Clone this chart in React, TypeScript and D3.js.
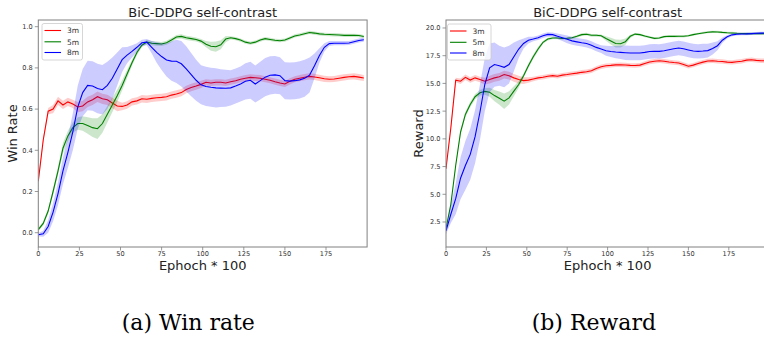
import React from "react";
import * as d3 from "d3";

const epochs = [0,3,6,9,12,15,18,21,24,27,30,33,36,39,42,45,48,51,54,57,60,63,66,69,72,75,78,81,84,87,90,93,96,99,102,105,108,111,114,117,120,123,126,129,132,135,138,141,144,147,150,153,156,159,162,165,168,171,174,177,180,183,186,189,192,195,198];

const seriesNames = ["3m", "5m", "8m"];
const seriesColors = ["#ff0000", "#008000", "#0000ff"];

const winRed = [0.25,0.45,0.59,0.60,0.64,0.62,0.635,0.625,0.61,0.615,0.635,0.645,0.66,0.65,0.645,0.63,0.615,0.613,0.62,0.635,0.64,0.65,0.648,0.652,0.655,0.657,0.66,0.668,0.673,0.68,0.695,0.705,0.712,0.72,0.73,0.727,0.73,0.73,0.727,0.733,0.738,0.745,0.75,0.754,0.752,0.75,0.745,0.74,0.733,0.727,0.722,0.735,0.745,0.75,0.755,0.759,0.756,0.752,0.747,0.745,0.746,0.75,0.754,0.757,0.759,0.755,0.751];
const winRedStd = [0.008,0.012,0.015,0.02,0.02,0.02,0.02,0.02,0.025,0.025,0.025,0.025,0.025,0.025,0.025,0.025,0.025,0.018,0.018,0.018,0.018,0.018,0.018,0.018,0.018,0.018,0.018,0.018,0.018,0.018,0.018,0.018,0.018,0.018,0.015,0.015,0.015,0.015,0.015,0.015,0.015,0.015,0.015,0.015,0.015,0.015,0.015,0.015,0.015,0.015,0.015,0.015,0.015,0.015,0.015,0.015,0.015,0.015,0.015,0.015,0.015,0.015,0.015,0.015,0.015,0.015,0.015];
const winGreen = [0.015,0.045,0.105,0.20,0.30,0.41,0.47,0.51,0.53,0.53,0.52,0.51,0.505,0.53,0.575,0.62,0.665,0.715,0.77,0.825,0.875,0.91,0.925,0.92,0.918,0.916,0.922,0.935,0.95,0.953,0.946,0.942,0.938,0.93,0.915,0.905,0.903,0.912,0.94,0.946,0.942,0.935,0.925,0.92,0.925,0.935,0.942,0.938,0.934,0.932,0.935,0.945,0.955,0.96,0.966,0.972,0.969,0.965,0.963,0.962,0.961,0.96,0.958,0.958,0.958,0.957,0.952];
const winGreenStd = [0.008,0.01,0.012,0.015,0.02,0.025,0.025,0.025,0.03,0.035,0.04,0.045,0.05,0.045,0.04,0.035,0.03,0.025,0.02,0.015,0.012,0.01,0.01,0.01,0.01,0.01,0.01,0.01,0.01,0.01,0.01,0.01,0.01,0.01,0.015,0.022,0.025,0.022,0.015,0.008,0.008,0.008,0.008,0.008,0.008,0.008,0.008,0.008,0.008,0.008,0.008,0.008,0.008,0.008,0.008,0.008,0.008,0.008,0.008,0.008,0.008,0.008,0.008,0.008,0.008,0.008,0.008];
const winBlue = [-0.01,-0.005,0.03,0.10,0.19,0.30,0.39,0.49,0.61,0.68,0.715,0.712,0.70,0.694,0.715,0.75,0.795,0.84,0.862,0.88,0.90,0.922,0.925,0.90,0.875,0.855,0.838,0.833,0.832,0.82,0.795,0.767,0.74,0.718,0.71,0.706,0.703,0.702,0.701,0.703,0.712,0.722,0.735,0.74,0.722,0.738,0.755,0.764,0.766,0.762,0.738,0.736,0.738,0.742,0.75,0.765,0.81,0.86,0.90,0.918,0.92,0.92,0.92,0.921,0.927,0.933,0.937];
const winBlueStd = [0.008,0.015,0.03,0.045,0.055,0.065,0.075,0.09,0.105,0.115,0.12,0.12,0.12,0.12,0.115,0.1,0.08,0.06,0.04,0.03,0.02,0.015,0.015,0.03,0.05,0.065,0.08,0.095,0.105,0.11,0.11,0.105,0.1,0.095,0.095,0.095,0.095,0.092,0.09,0.085,0.085,0.085,0.088,0.09,0.09,0.092,0.093,0.093,0.092,0.09,0.09,0.09,0.09,0.09,0.09,0.085,0.06,0.035,0.02,0.012,0.01,0.01,0.01,0.01,0.01,0.01,0.01];

const rewRed = [7.3,11.0,15.3,15.2,15.55,15.3,15.5,15.35,15.2,15.35,15.5,15.6,15.8,15.7,15.5,15.35,15.25,15.3,15.4,15.5,15.55,15.65,15.7,15.65,15.75,15.8,15.87,15.93,16.0,16.05,16.15,16.35,16.5,16.6,16.63,16.67,16.69,16.66,16.63,16.62,16.65,16.8,16.93,17.0,17.05,17.0,16.93,16.88,16.84,16.7,16.55,16.65,16.8,16.92,17.02,17.05,17.0,16.97,16.92,16.9,16.95,17.0,17.1,17.13,17.08,17.05,17.05];
const rewRedStd = [0.1,0.2,0.2,0.25,0.25,0.25,0.25,0.25,0.3,0.35,0.35,0.35,0.35,0.35,0.35,0.35,0.3,0.25,0.2,0.2,0.2,0.2,0.2,0.2,0.2,0.2,0.2,0.2,0.2,0.2,0.2,0.2,0.2,0.2,0.2,0.2,0.2,0.2,0.2,0.2,0.2,0.2,0.2,0.2,0.2,0.2,0.2,0.2,0.2,0.2,0.2,0.2,0.2,0.2,0.2,0.2,0.2,0.2,0.2,0.2,0.2,0.2,0.2,0.2,0.2,0.2,0.2];
const rewGreen = [1.9,4.1,7.6,10.6,12.2,13.1,13.8,14.15,14.28,14.2,13.9,13.67,13.4,13.7,14.3,14.9,15.7,16.6,17.4,18.1,18.7,19.0,19.1,19.1,19.05,19.07,19.12,19.25,19.4,19.44,19.34,19.34,19.3,19.05,18.82,18.6,18.58,18.76,19.25,19.45,19.4,19.27,19.17,19.06,19.1,19.22,19.25,19.24,19.25,19.25,19.3,19.4,19.48,19.55,19.62,19.65,19.64,19.6,19.57,19.55,19.52,19.5,19.49,19.49,19.49,19.49,19.49];
const rewGreenStd = [0.15,0.15,0.2,0.25,0.25,0.25,0.25,0.25,0.3,0.4,0.5,0.6,0.7,0.6,0.45,0.3,0.2,0.2,0.2,0.2,0.12,0.12,0.12,0.12,0.12,0.12,0.12,0.12,0.12,0.12,0.12,0.12,0.12,0.2,0.3,0.35,0.35,0.3,0.15,0.1,0.1,0.1,0.1,0.1,0.1,0.1,0.1,0.1,0.1,0.1,0.1,0.1,0.1,0.1,0.1,0.1,0.1,0.1,0.1,0.1,0.1,0.1,0.1,0.1,0.1,0.1,0.1];
const rewBlue = [1.7,3.2,4.6,6.45,7.6,8.6,10.2,12.4,14.9,16.4,16.7,16.6,16.45,16.7,17.4,18.1,18.6,18.9,19.0,19.12,19.3,19.42,19.4,19.25,19.12,18.98,18.84,18.75,18.67,18.6,18.45,18.25,18.1,17.95,17.88,17.83,17.8,17.77,17.74,17.74,17.74,17.8,17.88,17.9,17.89,17.95,18.03,18.12,18.2,18.12,18.02,17.92,17.89,17.92,17.96,18.15,18.4,18.9,19.2,19.38,19.44,19.46,19.47,19.49,19.52,19.54,19.55];
const rewBlueStd = [0.3,0.8,1.4,1.9,2.2,2.3,2.4,2.5,2.4,2.2,2.0,1.8,1.8,1.7,1.3,0.8,0.45,0.3,0.2,0.2,0.2,0.2,0.2,0.25,0.3,0.35,0.35,0.35,0.35,0.35,0.35,0.35,0.35,0.45,0.5,0.55,0.6,0.65,0.65,0.65,0.65,0.65,0.65,0.65,0.65,0.65,0.65,0.65,0.65,0.65,0.65,0.65,0.65,0.65,0.62,0.55,0.4,0.25,0.15,0.12,0.12,0.12,0.12,0.12,0.12,0.12,0.12];

const xTicks = [0, 25, 50, 75, 100, 125, 150, 175];
const winTicks = [0.0, 0.2, 0.4, 0.6, 0.8, 1.0];
const rewTicks = [2.5, 5.0, 7.5, 10.0, 12.5, 15.0, 17.5, 20.0];

const chartTitle = "BiC-DDPG self-contrast";
const xLabel = "Ephoch * 100";

type PanelProps = {
  id: string;
  xRange: [number, number];
  yDomain: [number, number];
  yTicks: number[];
  means: number[][];
  stds: number[][];
  yLabel: string;
  yLabelX: number;
  legend: { x: number; y: number; w: number; h: number };
};

const TOP = 20;
const BOTTOM = 247;
const SANS = "DejaVu Sans, sans-serif";

function Panel(p: PanelProps) {
  const x = d3.scaleLinear().domain([0, 200]).range(p.xRange);
  const y = d3.scaleLinear().domain(p.yDomain).range([BOTTOM, TOP]);
  const left = p.xRange[0];
  const right = p.xRange[1];
  const cx = (left + right) / 2;
  const line = (m: number[]) =>
    d3.line<number>().x((_, i) => x(epochs[i])).y((d) => y(d))(m) || "";
  const area = (m: number[], s: number[]) =>
    d3
      .area<number>()
      .x((_, i) => x(epochs[i]))
      .y0((d, i) => y(d - s[i]))
      .y1((d, i) => y(d + s[i]))(m) || "";
  const rowY = [p.legend.y + 7, p.legend.y + 18.3, p.legend.y + 29];
  return (
    <g>
      <defs>
        <clipPath id={p.id}>
          <rect x={left} y={TOP} width={right - left} height={BOTTOM - TOP} />
        </clipPath>
      </defs>
      <g clipPath={`url(#${p.id})`}>
        {p.means.map((m, k) => (
          <g key={k}>
            <path d={area(m, p.stds[k])} fill={seriesColors[k]} fillOpacity={0.2} stroke="none" />
            <path d={line(m)} fill="none" stroke={seriesColors[k]} strokeWidth={1.1} />
          </g>
        ))}
      </g>
      <rect x={left} y={TOP} width={right - left} height={BOTTOM - TOP} fill="none" stroke="#808080" strokeWidth={1} />
      {xTicks.map((t) => (
        <g key={t}>
          <line x1={x(t)} x2={x(t)} y1={BOTTOM} y2={BOTTOM + 3.5} stroke="#808080" strokeWidth={0.8} />
          <text x={x(t)} y={BOTTOM + 9} fontSize={6.6} fontFamily={SANS} fill="#333" textAnchor="middle">
            {t}
          </text>
        </g>
      ))}
      {p.yTicks.map((t) => (
        <g key={t}>
          <line x1={left - 3.5} x2={left} y1={y(t)} y2={y(t)} stroke="#808080" strokeWidth={0.8} />
          <text x={left - 5.5} y={y(t) + 2.4} fontSize={6.6} fontFamily={SANS} fill="#333" textAnchor="end">
            {d3.format(".1f")(t)}
          </text>
        </g>
      ))}
      <text x={cx} y={16.7} fontSize={13} fontFamily={SANS} fill="#222" textAnchor="middle">
        {chartTitle}
      </text>
      <text x={cx} y={269.5} fontSize={13} fontFamily={SANS} fill="#222" textAnchor="middle">
        {xLabel}
      </text>
      <text
        transform={`translate(${p.yLabelX},${(TOP + BOTTOM) / 2}) rotate(-90)`}
        fontSize={13}
        fontFamily={SANS}
        fill="#222"
        textAnchor="middle"
      >
        {p.yLabel}
      </text>
      <rect x={p.legend.x} y={p.legend.y} width={p.legend.w} height={p.legend.h} rx={2} fill="#fff" fillOpacity={0.8} stroke="#cccccc" strokeWidth={0.8} />
      {seriesNames.map((n, k) => (
        <g key={n}>
          <line x1={p.legend.x + 2.5} x2={p.legend.x + 19} y1={rowY[k]} y2={rowY[k]} stroke={seriesColors[k]} strokeWidth={1.1} />
          <text x={p.legend.x + 25} y={rowY[k] + 2.7} fontSize={7.5} fontFamily={SANS} fill="#333">
            {n}
          </text>
        </g>
      ))}
    </g>
  );
}

export default function App() {
  return (
    <div style={{ position: "absolute", left: 0, top: 0 }}>
      <svg width={764} height={339} style={{ display: "block", background: "#fff" }}>
        <Panel
          id="clipA"
          xRange={[38.3, 367.1]}
          yDomain={[-0.0694, 1.0325]}
          yTicks={winTicks}
          means={[winRed, winGreen, winBlue]}
          stds={[winRedStd, winGreenStd, winBlueStd]}
          yLabel="Win Rate"
          yLabelX={17.3}
          legend={{ x: 42, y: 23.5, w: 40.5, h: 36.5 }}
        />
        <Panel
          id="clipB"
          xRange={[446, 769.2]}
          yDomain={[0.245, 20.72]}
          yTicks={rewTicks}
          means={[rewRed, rewGreen, rewBlue]}
          stds={[rewRedStd, rewGreenStd, rewBlueStd]}
          yLabel="Reward"
          yLabelX={423}
          legend={{ x: 447.5, y: 24, w: 43.5, h: 36 }}
        />
        <text x={121.7} y={330} fontSize={22} fontFamily="DejaVu Serif, serif" fill="#000">
          (a) Win rate
        </text>
        <text x={531.7} y={330} fontSize={22} fontFamily="DejaVu Serif, serif" fill="#000">
          (b) Reward
        </text>
      </svg>
    </div>
  );
}
